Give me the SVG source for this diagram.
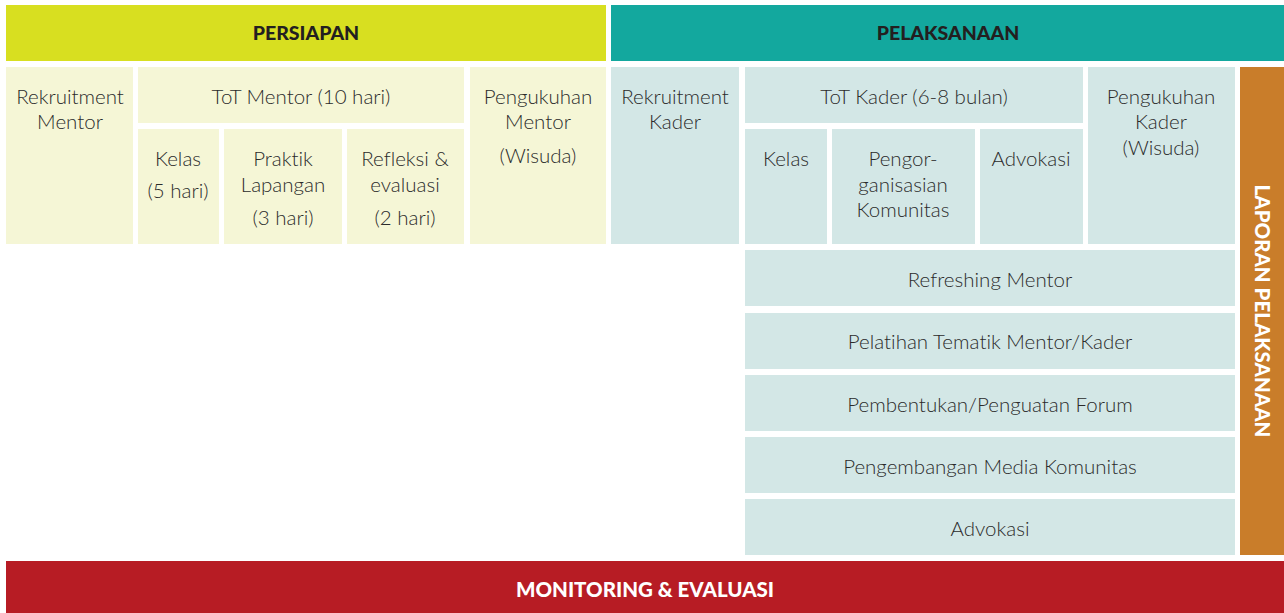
<svg xmlns="http://www.w3.org/2000/svg" width="1284" height="613" viewBox="0 0 1284 613">
<style>
text{font-variant-ligatures:none}
.hd{font-family:Lato,"Liberation Sans",sans-serif;font-weight:900;font-size:19.5px;fill:#231F20;text-anchor:middle}
.hw{font-family:Lato,"Liberation Sans",sans-serif;font-weight:900;font-size:20.5px;fill:#FFFFFF;text-anchor:middle}
.t{font-family:Lato,"Liberation Sans",sans-serif;font-weight:300;font-size:20.5px;fill:#2B2B2B;text-anchor:middle}
.py{fill:#F5F6D6}
.pt{fill:#D3E7E6}
</style>
<rect width="1284" height="613" fill="#FFFFFF"/>
<g id="hdr-persiapan"><rect x="6" y="5" width="600" height="56" fill="#D8DF20"/><text class="hd" x="306" y="40">PERSIAPAN</text></g>
<g id="hdr-pelaksanaan"><rect x="611" y="5" width="673" height="56" fill="#13A89E"/><text class="hd" x="948" y="40">PELAKSANAAN</text></g>

<g id="rekruitment-mentor"><rect class="py" x="6" y="67" width="127" height="177"/><text class="t" x="70" y="104">Rekruitment</text><text class="t" x="70" y="129">Mentor</text></g>
<g id="tot-mentor"><rect class="py" x="138" y="67" width="326" height="56"/><text class="t" x="301" y="104">ToT Mentor (10 hari)</text></g>
<g id="kelas-mentor"><rect class="py" x="138" y="129" width="81" height="115"/><text class="t" x="178" y="166">Kelas</text><text class="t" x="178" y="198">(5 hari)</text></g>
<g id="praktik"><rect class="py" x="224" y="129" width="118" height="115"/><text class="t" x="283" y="166">Praktik</text><text class="t" x="283" y="192">Lapangan</text><text class="t" x="283" y="225">(3 hari)</text></g>
<g id="refleksi"><rect class="py" x="347" y="129" width="117" height="115"/><text class="t" x="405" y="166">Refleksi &amp;</text><text class="t" x="405" y="192">evaluasi</text><text class="t" x="405" y="225">(2 hari)</text></g>
<g id="pengukuhan-mentor"><rect class="py" x="470" y="67" width="136" height="177"/><text class="t" x="538" y="104">Pengukuhan</text><text class="t" x="538" y="129">Mentor</text><text class="t" x="538" y="163">(Wisuda)</text></g>

<g id="rekruitment-kader"><rect class="pt" x="611" y="67" width="128" height="177"/><text class="t" x="675" y="104">Rekruitment</text><text class="t" x="675" y="129">Kader</text></g>
<g id="tot-kader"><rect class="pt" x="745" y="67" width="338" height="56"/><text class="t" x="914" y="104">ToT Kader (6-8 bulan)</text></g>
<g id="kelas-kader"><rect class="pt" x="745" y="129" width="82" height="115"/><text class="t" x="786" y="166">Kelas</text></g>
<g id="pengorganisasian"><rect class="pt" x="832" y="129" width="143" height="115"/><text class="t" x="903" y="166">Pengor-</text><text class="t" x="903" y="192">ganisasian</text><text class="t" x="903" y="217">Komunitas</text></g>
<g id="advokasi-kader"><rect class="pt" x="980" y="129" width="103" height="115"/><text class="t" x="1031" y="166">Advokasi</text></g>
<g id="pengukuhan-kader"><rect class="pt" x="1088" y="67" width="147" height="177"/><text class="t" x="1161" y="104">Pengukuhan</text><text class="t" x="1161" y="129">Kader</text><text class="t" x="1161" y="155">(Wisuda)</text></g>

<g id="refreshing"><rect class="pt" x="745" y="250" width="490" height="56"/><text class="t" x="990" y="287">Refreshing Mentor</text></g>
<g id="pelatihan"><rect class="pt" x="745" y="313" width="490" height="56"/><text class="t" x="990" y="349">Pelatihan Tematik Mentor/Kader</text></g>
<g id="pembentukan"><rect class="pt" x="745" y="375" width="490" height="56"/><text class="t" x="990" y="412">Pembentukan/Penguatan Forum</text></g>
<g id="pengembangan"><rect class="pt" x="745" y="437" width="490" height="56"/><text class="t" x="990" y="474">Pengembangan Media Komunitas</text></g>
<g id="advokasi"><rect class="pt" x="745" y="499" width="490" height="56"/><text class="t" x="990" y="536">Advokasi</text></g>

<g id="laporan"><rect x="1240" y="67" width="44" height="488" fill="#C97D2A"/><text class="hw" transform="translate(1255 311) rotate(90)" x="0" y="0">LAPORAN PELAKSANAAN</text></g>
<g id="monev"><rect x="6" y="561" width="1278" height="52" fill="#B71C24"/><text class="hw" x="645" y="597">MONITORING &amp; EVALUASI</text></g>
<g id="connectors"></g>
</svg>
